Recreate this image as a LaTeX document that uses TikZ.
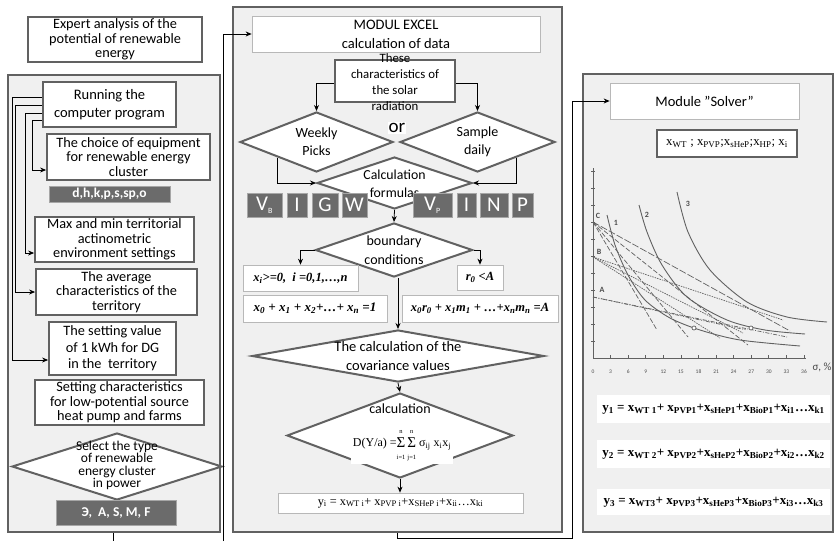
\documentclass[tikz,border=0pt]{standalone}
\usepackage{fontspec}
\setmainfont{Carlito}
\newfontfamily\tms{Liberation Serif}
\usetikzlibrary{arrows.meta,shapes.geometric,calc}
\newcommand{\sbs}[1]{\textsubscript{#1}}
\newcommand{\fsz}[2]{\fontsize{#1}{#2}\selectfont}
\newcommand{\sumlim}[2]{\raisebox{-0.5pt}{\begin{tabular}{@{}c@{}}\fsz{6.5}{7.5}#2\\[0.5pt]\fsz{15}{13}Σ\\[0pt]\fsz{6.5}{7.5}#1\end{tabular}}}
\begin{document}
\begin{tikzpicture}[x=1pt,y=-1pt,
 panel/.style={draw=black!62,line width=2.4,fill=black!6,inner sep=0},
 box/.style={draw=black!62,line width=1.8,fill=white,align=center,inner sep=0,font=\fsz{14.3}{14.5}},
 thinbox/.style={draw=black!28,line width=0.7,fill=white,inner sep=0,align=center},
 dark/.style={draw=black!35,line width=0.8,fill=black!58,text=white,inner sep=0,font=\bfseries},
 dia/.style={diamond,draw=black!62,line width=2,fill=white,inner sep=0},
 txt/.style={align=center,inner sep=0},
 arr/.style={draw=black,line width=0.8,-{Stealth[length=6pt,width=5pt]}},
 ln/.style={draw=black,line width=0.8},
 cl/.style={draw=black!62,line width=0.7}
]
\useasboundingbox[fill=white] (0,0) rectangle (835,541);

% ---------------- panels ----------------
\node[panel,minimum width=212,minimum height=457] (leftpanel) at (114,303.5) {};
\node[panel,minimum width=329,minimum height=525] (midpanel) at (397.5,269.5) {};
\node[panel,minimum width=250,minimum height=458] (rightpanel) at (708,303) {};

% ---------------- left column ----------------
\node[box,minimum width=174,minimum height=45] (expert) at (115,39.5) {Expert analysis of the\\potential of renewable\\energy};
\node[box,minimum width=133,minimum height=45,font=\fsz{14.5}{18.5}] (run) at (109.5,104.5) {Running the\\computer program};
\node[box,minimum width=163,minimum height=46] (choice) at (128.5,157) {The choice of equipment\\for renewable energy\\cluster};
\node[dark,minimum width=121,minimum height=16,font=\bfseries\fsz{13.5}{12}] (dparams) at (109.5,194) {d,h,k,p,s,sp,o};
\node[box,minimum width=159,minimum height=45] (maxmin) at (114.5,239.5) {Max and min territorial\\actinometric\\environment settings};
\node[box,minimum width=161,minimum height=46] (average) at (116.5,292) {The average\\characteristics of the\\territory};
\node[box,minimum width=127,minimum height=53,font=\fsz{14.3}{16.5}] (setting) at (112.5,348.5) {The setting value\\of 1 kWh for DG\\in the \ territory};
\node[box,minimum width=169,minimum height=45] (lowpot) at (119.5,402.5) {Setting characteristics\\for low-potential source\\heat pump and farms};
\node[dia,minimum width=210,minimum height=67] (seldia) at (117,466.5) {};
\node[txt,font=\fsz{13.5}{12.4}] (seldiat) at (117,465.5) {Select the type\\of renewable\\energy cluster\\in power};
\node[dark,minimum width=120,minimum height=25,font=\bfseries\fsz{13.5}{12}] (dtype) at (116,512.5) {Э, \ A, S, M, F};

\draw[arr] ($(run.west)+(0,-7.5)$) -- ++(-30,0) |- ($(setting.west)+(0,11.5)$);
\draw[arr] ($(run.west)+(0,0.5)$) -- ++(-27,0) |- (average.west);
\draw[arr] ($(run.west)+(0,8.5)$) -- ++(-17,0) |- ($(maxmin.west)+(0,13.5)$);
\draw[arr] ($(run.west)+(0,15.5)$) -- ++(-10,0) |- ($(choice.west)+(0,13)$);

\coordinate (lbot) at (113,541);
\draw[ln] (leftpanel.south -| lbot) -- (lbot);
\coordinate (lfree) at (223,541);

% ---------------- middle column ----------------
\node[thinbox,minimum width=288,minimum height=36,font=\fsz{14.5}{19}] (excel) at (396,34) {MODUL EXCEL\\calculation of data};
\draw[arr] (lfree) |- (excel.west);
\node[box,minimum width=120,minimum height=42] (solar) at (395,81) {};
\node[txt,font=\fsz{12.8}{16}] (solart) at (395,82) {These\\characteristics of\\the solar\\radiation};
\node[dia,minimum width=153,minimum height=60] (weekly) at (316.5,142) {};
\node[txt,font=\fsz{14}{18}] (weeklyt) at (316.5,142) {Weekly\\Picks};
\node[dia,minimum width=155,minimum height=60] (sample) at (477.5,142) {};
\node[txt,font=\fsz{14}{18}] (samplet) at (477.5,142) {Sample\\daily};
\node[fill=white,inner sep=1,font=\fsz{19}{19}] (ortext) at (397,128) {or};
\draw[arr] ($(solar.west)+(0,2)$) -| (weekly.north);
\draw[arr] ($(solar.east)+(0,2)$) -| (sample.north);

\node[dia,minimum width=155,minimum height=52] (calc) at (394.5,183) {};
\node[txt,font=\fsz{13.8}{18}] (calct) at (394.5,184) {Calculation\\formulas};
\draw[arr] (weekly.south west) |- (calc.west);
\draw[arr] (sample.south east) |- (calc.east);

\node[dark,minimum width=35,minimum height=24,font=\fsz{21}{20}] (vb) at (264.5,205) {V\textsubscript{\fsz{8}{8}B}};
\node[dark,minimum width=20,minimum height=24,font=\fsz{21}{20}] (ia) at (297,205) {I};
\node[dark,minimum width=26,minimum height=24,font=\fsz{21}{20}] (gb) at (325,205) {G};
\node[dark,minimum width=25,minimum height=24,font=\fsz{21}{20}] (wb) at (354.5,205) {W};
\node[dark,minimum width=39,minimum height=24,font=\fsz{21}{20}] (vp) at (432.5,205) {V\textsubscript{\fsz{8}{8}P}};
\node[dark,minimum width=19,minimum height=24,font=\fsz{21}{20}] (ib) at (466.5,205) {I};
\node[dark,minimum width=28,minimum height=24,font=\fsz{21}{20}] (nb) at (494,205) {N};
\node[dark,minimum width=21,minimum height=24,font=\fsz{21}{20}] (pb) at (522.5,205) {P};

\node[dia,minimum width=157,minimum height=54] (bound) at (394,250) {};
\node[txt,font=\fsz{14}{19}] (boundt) at (394,250) {boundary\\conditions};
\draw[arr] (calc.south) -- (bound.north);

\node[thinbox,minimum width=115,minimum height=26,font=\tms\bfseries\itshape\fsz{12.5}{12}] (xi) at (300.5,278) {x\sbs{i}>=0, \ i =0,1,…,n};
\node[thinbox,minimum width=46,minimum height=25,font=\tms\bfseries\itshape\fsz{12.5}{12}] (r0) at (480,277.5) {r\sbs{0} <A};
\node[thinbox,minimum width=144,minimum height=27,font=\tms\bfseries\itshape\fsz{13}{12}] (sum1) at (315,308.5) {x\sbs{0} + x\sbs{1} + x\sbs{2}+…+ x\sbs{n} =1};
\node[thinbox,minimum width=156,minimum height=27,font=\tms\bfseries\itshape\fsz{12.5}{12}] (sum2) at (480,308.5) {x\sbs{0}r\sbs{0} + x\sbs{1}m\sbs{1} + …+x\sbs{n}m\sbs{n} =A};
\draw[arr] (bound.west) -| (xi.north);
\draw[arr] (bound.east) -| (r0.north);

\node[dia,minimum width=292,minimum height=52] (cov) at (398,356) {};
\node[txt,font=\fsz{14.5}{19}] (covt) at (398,356) {The calculation of the\\covariance values};
\draw[arr] (bound.south -| cov.north) -- (cov.north);

\node[dia,minimum width=226,minimum height=85] (calcd) at (400,435.5) {};
\node[txt,font=\fsz{14}{14}] (calcdt) at (400,409) {calculation};
\node[txt,fill=white,inner xsep=2,inner ysep=1,font=\tms\fsz{12}{12}] (dform) at (402,444) {D(Y/a) =\sumlim{i=1}{n}\,\sumlim{j=1}{n} σ\sbs{ij} x\sbs{i}x\sbs{j}};
\draw[arr] (cov.south) -- (calcd.north);

\node[thinbox,minimum width=245,minimum height=20,font=\tms\fsz{12.3}{12}] (yi) at (400.5,503) {y\sbs{i} = x\sbs{WT i}+ x\sbs{PVP i}+x\sbs{SHeP i}+x\sbs{ii}…x\sbs{ki}};
\draw[arr] (calcd.south) -- (calcd.south |- yi.north);

% ---------------- right column ----------------
\node[thinbox,minimum width=189,minimum height=36,font=\fsz{14.5}{14}] (solver) at (704.5,101) {Module "Solver"};
\node[box,minimum width=140,minimum height=27,font=\tms\fsz{12.8}{12}] (vars) at (727,143.5) {x\sbs{WT} ; x\sbs{PVP};x\sbs{sHeP};x\sbs{HP}; x\sbs{i}};

\coordinate (turn) at (572,538);
\draw[arr] (midpanel.south) -- (midpanel.south |- turn) -- (turn) |- (solver.west);

% chart
\draw[cl] (593,168) -- (593,358) -- (806,358);
\foreach \k in {1,...,11} \draw[cl] (591,{358-17*\k}) -- (595,{358-17*\k});
\foreach \k in {0,3,...,36} {
  \draw[cl] ({593+5.861*\k},358) -- ({593+5.861*\k},355);
  \node[font=\fsz{5.5}{6},text=black!70] (tick\k) at ({593+5.861*\k},372) {\k};
}
\node[font=\fsz{11}{11},text=black!70,anchor=west] (sigl) at (809,367) {σ, \%};
\draw[cl,line width=0.9] plot[smooth] coordinates {(607,215) (615,245) (628,275) (645,300) (670,318) (700,330) (740,340) (800,346)};
\draw[cl,line width=0.9] plot[smooth] coordinates {(639,205) (647,232) (662,265) (687,297) (727,320) (765,330) (805,334)};
\draw[cl,line width=0.9] plot[smooth] coordinates {(677,192) (688,232) (710,270) (747,302) (787,317) (827,322)};
\node[font=\bfseries\fsz{8}{8},text=black!70] (l1) at (616,223) {1};
\node[font=\bfseries\fsz{8}{8},text=black!70] (l2) at (647,215) {2};
\node[font=\bfseries\fsz{8}{8},text=black!70] (l3) at (688,204) {3};
\node[font=\bfseries\fsz{8}{8},text=black!70] (pc) at (598,216) {C};
\node[font=\bfseries\fsz{8}{8},text=black!70] (pbl) at (599,252) {B};
\node[font=\bfseries\fsz{8}{8},text=black!70] (pa) at (602,290) {A};
\coordinate (C) at (593,222);
\coordinate (B) at (593,257);
\coordinate (A) at (593,297);
\draw[cl,dash pattern=on 5pt off 2pt] (C) -- (657,330);
\draw[cl,dash pattern=on 5pt off 2pt] (C) -- (688,337);
\draw[cl,dash pattern=on 5pt off 2pt] (C) -- (748,345);
\draw[cl,dash pattern=on 7pt off 2pt] (C) -- (790,331);
\draw[cl,dash pattern=on 1.5pt off 1pt] (B) -- (743,333);
\draw[cl,dash pattern=on 1.5pt off 1pt] (B) -- (783,320);
\draw[cl,dash pattern=on 1.5pt off 1pt] (B) -- (720,338);
\draw[cl,dash pattern=on 4pt off 1.5pt on 1pt off 1.5pt] (A) -- (787,337);
\draw[cl,dash pattern=on 4pt off 1.5pt on 1pt off 1.5pt on 1pt off 1.5pt] (A) -- (747,330);
\draw[cl,fill=white] (694,328) circle (2);
\draw[cl,fill=white] (751,328) circle (2);

\node[fill=white,minimum width=233,minimum height=28,inner sep=0,font=\tms\bfseries\fsz{13}{13}] (y1) at (713.5,409) {y\sbs{1} = x\sbs{WT 1}+ x\sbs{PVP1}+x\sbs{sHeP1}+x\sbs{BioP1}+x\sbs{i1}…x\sbs{k1}};
\node[fill=white,minimum width=233,minimum height=28,inner sep=0,font=\tms\bfseries\fsz{13}{13}] (y2) at (713.5,454) {y\sbs{2} = x\sbs{WT 2}+ x\sbs{PVP2}+x\sbs{sHeP2}+x\sbs{BioP2}+x\sbs{i2}…x\sbs{k2}};
\node[fill=white,minimum width=233,minimum height=26,inner sep=0,font=\tms\bfseries\fsz{13}{13}] (y3) at (713.5,502) {y\sbs{3} = x\sbs{WT3}+ x\sbs{PVP3}+x\sbs{sHeP3}+x\sbs{BioP3}+x\sbs{i3}…x\sbs{k3}};
\end{tikzpicture}
\end{document}
